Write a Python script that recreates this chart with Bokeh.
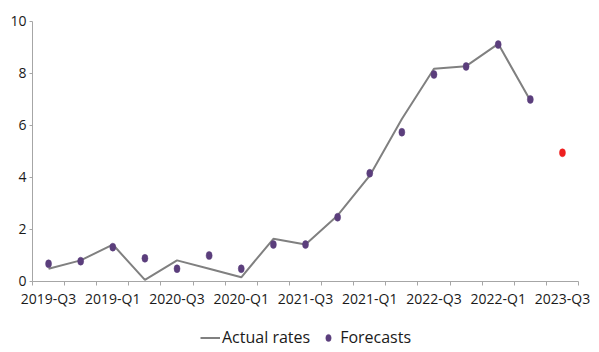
from bokeh.plotting import figure
from bokeh.models import FixedTicker, Range1d, Legend, LegendItem, ColumnDataSource
from bokeh.embed import file_html
from bokeh.resources import INLINE

tick_labels = ["2019-Q3", "2019-Q1", "2020-Q3", "2020-Q1", "2021-Q3",
               "2021-Q1", "2022-Q3", "2022-Q1", "2023-Q3"]
actual_rates = [0.48, 0.80, 1.41, 0.05, 0.80, 0.48, 0.15, 1.63, 1.41,
                2.53, 4.06, 6.24, 8.17, 8.27, 9.13, 6.95]
forecasts = [0.67, 0.77, 1.31, 0.88, 0.48, 0.99, 0.48, 1.41, 1.41,
             2.46, 4.15, 5.73, 7.95, 8.26, 9.10, 6.99, 4.94]

n = len(forecasts)
PURPLE = "#5b3e7c"
RED = "#ee1f1f"
GRAY = "#808080"
AXIS = "#a6a6a6"
TEXT = "#1a1a1a"
FONT = "Open Sans"

# canvas geometry (the frame fills the whole canvas; axes are drawn inside it)
W, H = 599, 352
LEFT, RIGHT = 32, 578      # pixel extent of the category axis
TOP, ZERO = 20.7, 280.7    # pixel rows of y = 10 and y = 0
Y_MAX = 10
px_x = (RIGHT - LEFT) / n
px_y = (ZERO - TOP) / Y_MAX
x_lo = -0.5 - LEFT / px_x
x_hi = -0.5 + (W - LEFT) / px_x
y_hi = Y_MAX + TOP / px_y
y_lo = -(H - ZERO) / px_y

actual_src = ColumnDataSource(dict(x=list(range(len(actual_rates))), y=actual_rates))
fc_src = ColumnDataSource(dict(
    x=list(range(n)), y=forecasts,
    color=[PURPLE if i < len(actual_rates) else RED for i in range(n)]))

p = figure(frame_width=W, frame_height=H, output_backend="svg", toolbar_location=None,
           x_range=Range1d(x_lo, x_hi), y_range=Range1d(y_lo, y_hi),
           min_border=0)
p.outline_line_color = None
p.xgrid.visible = False
p.ygrid.visible = False

line_r = p.line("x", "y", source=actual_src, line_color=GRAY, line_width=2)
pts_r = p.ellipse("x", "y", source=fc_src, width=6, height=8,
                  width_units="screen", height_units="screen",
                  fill_color="color", line_color="color", line_width=0.5)

# x axis, drawn at y = 0
label_pos = list(range(0, n, 2))
p.xaxis.fixed_location = 0
p.xaxis.bounds = (-0.5, n - 0.5)
p.xaxis.ticker = FixedTicker(ticks=label_pos,
                             minor_ticks=[i - 0.5 for i in range(n + 1)])
p.xaxis.major_label_overrides = {pos: lab for pos, lab in zip(label_pos, tick_labels)}
p.xaxis.major_tick_out = 0
p.xaxis.major_tick_in = 0
p.xaxis.minor_tick_out = 4
p.xaxis.minor_tick_in = 0
p.xaxis.minor_tick_line_color = AXIS
p.xaxis.axis_line_color = AXIS
p.xaxis.major_label_standoff = 4
p.xaxis.major_label_text_font = FONT
p.xaxis.major_label_text_font_size = "14px"
p.xaxis.major_label_text_color = TEXT

# y axis, drawn at the left edge of the categories, limited to 0..10
p.yaxis.fixed_location = -0.5
p.yaxis.bounds = (0, Y_MAX)
p.yaxis.ticker = FixedTicker(ticks=[0, 2, 4, 6, 8, 10])
p.yaxis.major_tick_out = 3
p.yaxis.major_tick_in = 0
p.yaxis.minor_tick_line_color = None
p.yaxis.major_tick_line_color = AXIS
p.yaxis.axis_line_color = AXIS
p.yaxis.major_label_standoff = 3
p.yaxis.major_label_text_font = FONT
p.yaxis.major_label_text_font_size = "14px"
p.yaxis.major_label_text_color = TEXT

legend = Legend(items=[LegendItem(label="Actual rates", renderers=[line_r]),
                       LegendItem(label="Forecasts", renderers=[pts_r])],
                orientation="horizontal", location=(200, 4))
legend.label_text_font = FONT
legend.label_text_font_size = "16px"
legend.label_text_color = TEXT
legend.glyph_width = 20
legend.glyph_height = 9
legend.label_height = 20
legend.label_standoff = 2
legend.spacing = 8
legend.padding = 0
legend.margin = 0
legend.border_line_alpha = 0
legend.background_fill_alpha = 0
p.add_layout(legend, "center")

open("out.html", "w").write(file_html(p, INLINE))
